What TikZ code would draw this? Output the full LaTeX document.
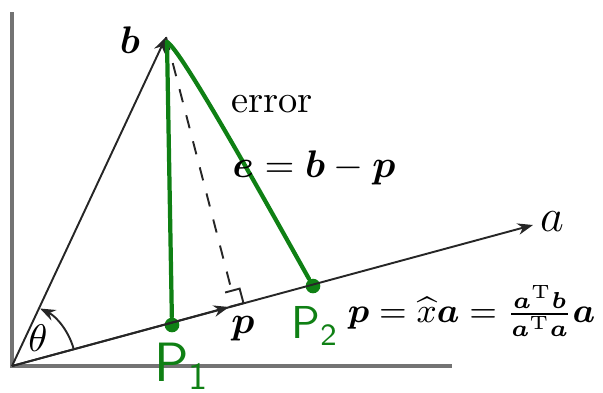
\documentclass[tikz,border=0pt]{standalone}
\usepackage{amsmath}
\usepackage{amssymb}
\usepackage{bm}
\usepackage{tikz}
\usetikzlibrary{arrows.meta}
\definecolor{inkgreen}{RGB}{15,128,20}
\tikzset{axis/.style = {draw = black!55, line width = 0.8pt}}
\tikzset{vec/.style = {draw = black!85, line width = 0.5pt, -{Stealth[length = 4pt, width = 3pt]}}}
\tikzset{ink/.style = {draw = inkgreen, line width = 1.1pt, line cap = round}}
\tikzset{dot/.style = {circle, fill = inkgreen, inner sep = 0pt, minimum size = 3.8pt}}
\tikzset{hand/.style = {text = inkgreen, font = \sffamily\Large}}

\begin{document}
\begin{tikzpicture}[x = 0.26pt, y = -0.26pt]
			\useasboundingbox (0, 0) rectangle (603, 392);
			\coordinate (o) at (12, 366);
			\coordinate (top) at (12, 12);
			\coordinate (right) at (452, 366);
			\coordinate (a) at (533, 225);
			\coordinate (b) at (166, 37);
			\coordinate (p) at (229, 307);
			\coordinate (q) at (232, 292);
			\coordinate (g) at (167, 42);
			\node[dot] (p1) at (172, 325) {};
			\node[dot] (p2) at (313, 286) {};

			\draw[axis] (top) -- (o) -- (right);
			\draw[vec] (o) -- (b);
			\draw[vec] (o) -- (a);
			\draw[vec] (o) -- (p);
			\draw[black!85, line width = 0.5pt, dash pattern = on 3.5pt off 3.5pt] (b) -- (q);
			\draw[black!85, line width = 0.5pt] (p) -- ++(14.5, -3.9) -- ++(-3.9, -14.5) -- ++(-14.5, 3.9);
			\draw[black!85, line width = 0.5pt, -{Stealth[length = 4pt, width = 3pt]}] (o) ++(-15:64) arc[start angle = -15, end angle = -64, radius = 64];

			\draw[ink] (g) -- (p1);
			\draw[ink] (g) .. controls (180, 48) and (262, 195) .. (p2);

			\node (blabel) at (130, 40) {$\bm{b}$};
			\node (alabel) at (552, 222) {\large$a$};
			\node (theta) at (38, 338) {$\theta$};
			\node (err) at (272, 104) {error};
			\node (eqn) at (314, 168) {$\bm{e} = \bm{b} - \bm{p}$};
			\node (plabel) at (243, 329) {$\bm{p}$};
			\node[anchor = west, inner sep = 0pt, font = \fontsize{9.1}{11}\selectfont] (proj) at (347, 311) {$\bm{p} = \widehat{x}\bm{a} = \frac{\bm{a}^{\mathrm{T}}\bm{b}}{\bm{a}^{\mathrm{T}}\bm{a}}\bm{a}$};
			\node[hand] (p1label) at (182, 366) {P\textsubscript{1}};
			\node[hand, font = \sffamily\large] (p2label) at (315, 326) {P\textsubscript{2}};
		\end{tikzpicture}
\end{document}
